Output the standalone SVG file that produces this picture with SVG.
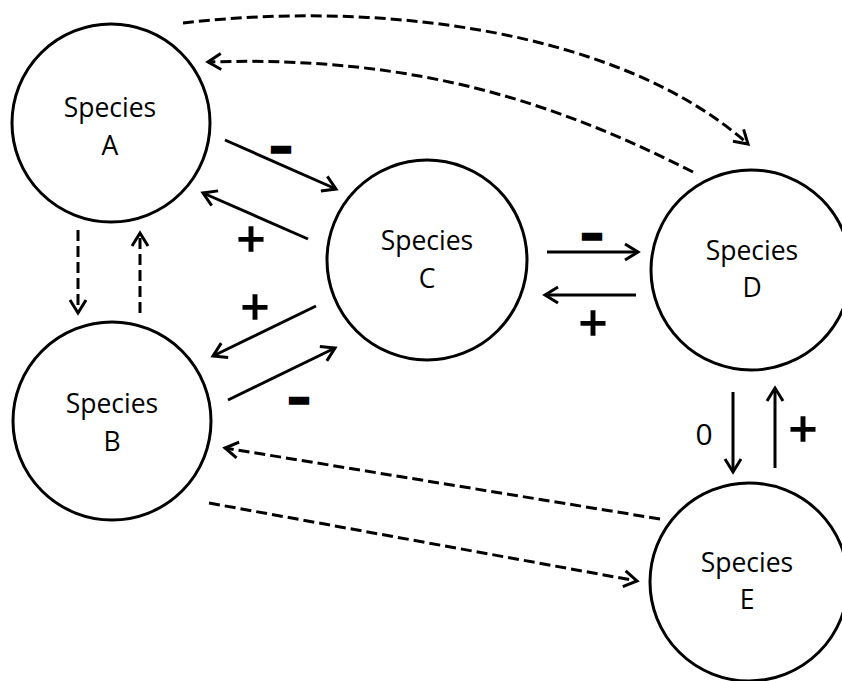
<svg xmlns="http://www.w3.org/2000/svg" width="842" height="681" viewBox="0 0 842 681">
<defs>
<style>
.node{fill:#fff;stroke:#000;stroke-width:3}
.lbl{font-family:"Open Sans","Liberation Sans",sans-serif;font-size:26.5px;fill:#000;text-anchor:middle}
.solid{fill:none;stroke:#000;stroke-width:3;marker-end:url(#arr)}
.dash{fill:none;stroke:#000;stroke-width:3;stroke-dasharray:11 5;marker-end:url(#arr)}
.minus{font-family:"Open Sans","Liberation Sans",sans-serif;font-size:40px;font-weight:bold;fill:#000;stroke:#000;stroke-width:3.5;text-anchor:middle}
.plus{font-family:"Open Sans","Liberation Sans",sans-serif;font-size:50px;fill:#000;stroke:#000;stroke-width:1.6;text-anchor:middle}
.zero{font-family:"Open Sans","Liberation Sans",sans-serif;font-size:30px;fill:#000;text-anchor:middle}
</style>
<marker id="arr" markerUnits="userSpaceOnUse" markerWidth="24" markerHeight="24" viewBox="-16 -12 24 24" refX="0" refY="0" orient="auto" overflow="visible">
<path d="M-13,-8 L0,0 L-13,8" fill="none" stroke="#000" stroke-width="3" stroke-dasharray="none"/>
</marker>
</defs>
<g id="connectors">
<line class="solid" x1="225" y1="140" x2="336" y2="189"/>
<line class="solid" x1="308" y1="239" x2="203" y2="193"/>
<line class="solid" x1="316" y1="306" x2="213" y2="356"/>
<line class="solid" x1="228" y1="400" x2="335" y2="348"/>
<line class="solid" x1="547" y1="252" x2="638" y2="252"/>
<line class="solid" x1="636" y1="295" x2="545" y2="295"/>
<line class="solid" x1="733" y1="392" x2="733" y2="472"/>
<line class="solid" x1="775" y1="468" x2="775" y2="388"/>
<line class="dash" x1="78" y1="230" x2="78" y2="313"/>
<line class="dash" x1="140" y1="313" x2="140" y2="233"/>
<path class="dash" d="M183,23 C380,0 620,30 748,144"/>
<path class="dash" d="M693,172 C560,105 420,55 208,62"/>
<line class="dash" x1="660" y1="519" x2="225" y2="448"/>
<line class="dash" x1="209" y1="503" x2="637" y2="581"/>
<text class="minus" x="281" y="160">–</text>
<text class="plus" x="251" y="257">+</text>
<text class="plus" x="255" y="325">+</text>
<text class="minus" x="299" y="411">–</text>
<text class="minus" x="592" y="247">–</text>
<text class="plus" x="593" y="341">+</text>
<text class="zero" x="704" y="445">0</text>
<text class="plus" x="803" y="447">+</text>
</g>
<g id="nodeA"><circle class="node" cx="111" cy="123" r="99"/><text class="lbl" x="110" y="117">Species</text><text class="lbl" x="110" y="155">A</text></g>
<g id="nodeB"><circle class="node" cx="112" cy="421" r="99"/><text class="lbl" x="112" y="413">Species</text><text class="lbl" x="112" y="451">B</text></g>
<g id="nodeC"><circle class="node" cx="427" cy="260" r="100"/><text class="lbl" x="427" y="250">Species</text><text class="lbl" x="427" y="288">C</text></g>
<g id="nodeD"><circle class="node" cx="751" cy="270" r="100"/><text class="lbl" x="752" y="260">Species</text><text class="lbl" x="752" y="297">D</text></g>
<g id="nodeE"><circle class="node" cx="749" cy="582" r="99"/><text class="lbl" x="747" y="572">Species</text><text class="lbl" x="747" y="609">E</text></g>
</svg>
